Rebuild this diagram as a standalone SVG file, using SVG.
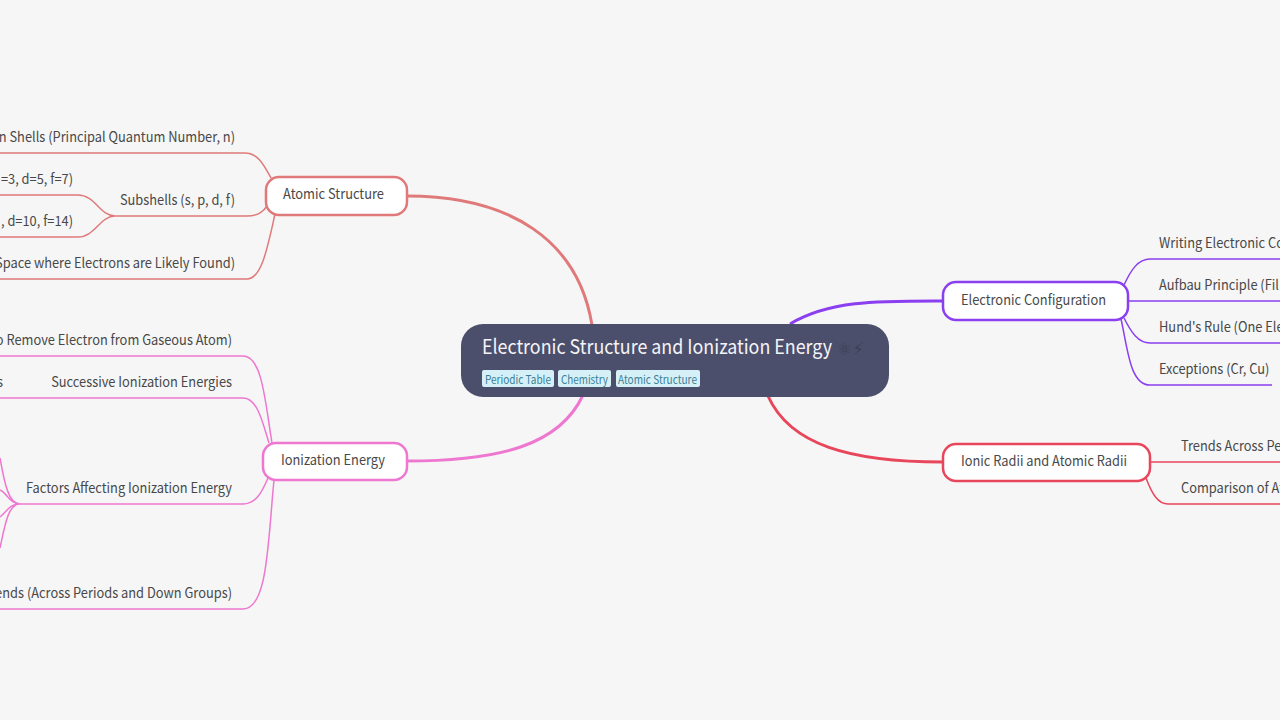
<svg xmlns="http://www.w3.org/2000/svg" width="1280" height="720" viewBox="0 0 1280 720">
<style>
text{font-family:"Noto Sans CJK SC","Noto Sans",sans-serif;font-size:14px;fill:#484848}
.r{text-anchor:end}
.n{fill:#fff;stroke-width:2.5}
.c path{fill:none;stroke-width:1.5}
.c path.m{stroke-width:3}
.tag{fill:#d6f0f8}
.t{font-size:11.5px;fill:#3a7f95}
.i{font-family:"DejaVu Sans",sans-serif;font-size:17px;fill:#3c3e55}
</style>
<rect width="1280" height="720" fill="#f6f6f6"/>
<g id="connectors" class="c">
<g stroke="#e07a7a">
<path class="m" d="M407 196C510 196 578 240 592 325"/>
<path d="M0 153H245C258 153 264 165 271 178"/>
<path d="M115 216H247C258 216 263 212 267 206"/>
<path d="M0 279H247C262 279 268 245 275 214"/>
<path d="M0 195H78C95 195 100 216 115 216C100 216 95 237 78 237H0"/>
</g>
<g stroke="#ee77d0">
<path class="m" d="M407 461C500 461 560 445 583 395"/>
<path d="M0 356H243C262 356 265 400 272 443"/>
<path d="M0 398H243C257 398 262 420 269 443"/>
<path d="M20 504H243C256 504 262 492 268 478"/>
<path d="M0 609H243C268 609 268 540 274 480"/>
<path d="M0 458C4 480 8 504 20 504C10 504 8 494 0 490M0 517C8 510 10 504 20 504C8 504 5 525 0 548"/>
</g>
<g stroke="#8a3ff0">
<path class="m" d="M790 324C830 300 880 301 943 301"/>
<path d="M1280 259H1150C1138 259 1131 270 1124 285"/>
<path d="M1129 301H1280"/>
<path d="M1280 343H1150C1138 343 1131 332 1124 318"/>
<path d="M1272 385H1150C1130 385 1128 350 1121 319"/>
</g>
<g stroke="#e8465a">
<path class="m" d="M768 396C790 445 850 462 943 462"/>
<path d="M1150 462H1280"/>
<path d="M1280 504H1168C1158 504 1152 494 1146 478"/>
</g>
</g>
<g id="root">
<rect x="461" y="324" width="428" height="73" rx="22" fill="#4c4f6b"/>
<text x="482" y="354" textLength="350" lengthAdjust="spacingAndGlyphs" style="font-size:20px;fill:#f4f4f8">Electronic Structure and Ionization Energy</text>
<text class="i" x="837" y="355">⚛&#xFE0E;</text>
<text class="i" x="852" y="355">⚡&#xFE0E;</text>
<rect class="tag" x="482" y="370" width="72" height="17" rx="2"/><text class="t" x="485" y="384" textLength="66" lengthAdjust="spacingAndGlyphs">Periodic Table</text>
<rect class="tag" x="558" y="370" width="53" height="17" rx="2"/><text class="t" x="561" y="384" textLength="47" lengthAdjust="spacingAndGlyphs">Chemistry</text>
<rect class="tag" x="616" y="370" width="84" height="17" rx="2"/><text class="t" x="618" y="384" textLength="79" lengthAdjust="spacingAndGlyphs">Atomic Structure</text>
</g>
<g id="atomic-structure">
<rect class="n" x="266" y="177" width="141" height="38" rx="13" stroke="#e07a7a"/>
<text x="283" y="199" textLength="101" lengthAdjust="spacingAndGlyphs">Atomic Structure</text>
</g>
<g id="ionization-energy">
<rect class="n" x="263" y="443" width="144" height="37" rx="13" stroke="#ee77d0"/>
<text x="281" y="465" textLength="104" lengthAdjust="spacingAndGlyphs">Ionization Energy</text>
</g>
<g id="electronic-configuration">
<rect class="n" x="943" y="282" width="185" height="38" rx="13" stroke="#8a3ff0"/>
<text x="961" y="305" textLength="145" lengthAdjust="spacingAndGlyphs">Electronic Configuration</text>
</g>
<g id="ionic-radii">
<rect class="n" x="943" y="444" width="207" height="37" rx="13" stroke="#e8465a"/>
<text x="961" y="466" textLength="166" lengthAdjust="spacingAndGlyphs">Ionic Radii and Atomic Radii</text>
</g>
<g id="labels-left">
<text class="r" transform="matrix(.917 0 0 1 235 142)">n Shells (Principal Quantum Number, n)</text>
<text class="r" transform="matrix(.917 0 0 1 73 184)">=3, d=5, f=7)</text>
<text class="r" transform="matrix(.917 0 0 1 235 205)">Subshells (s, p, d, f)</text>
<text class="r" transform="matrix(.917 0 0 1 73 226)">, d=10, f=14)</text>
<text class="r" transform="matrix(.917 0 0 1 235 268)">Space where Electrons are Likely Found)</text>
<text class="r" transform="matrix(.917 0 0 1 232 345)">o Remove Electron from Gaseous Atom)</text>
<text class="r" transform="matrix(.917 0 0 1 3 387)">s</text>
<text class="r" transform="matrix(.917 0 0 1 232 387)">Successive Ionization Energies</text>
<text class="r" transform="matrix(.917 0 0 1 232 493)">Factors Affecting Ionization Energy</text>
<text class="r" transform="matrix(.917 0 0 1 232 598)">ends (Across Periods and Down Groups)</text>
</g>
<g id="labels-right">
<text transform="matrix(.917 0 0 1 1159 248)">Writing Electronic Co</text>
<text transform="matrix(.917 0 0 1 1159 290)">Aufbau Principle (Fil</text>
<text transform="matrix(.917 0 0 1 1159 332)">Hund's Rule (One Ele</text>
<text transform="matrix(.917 0 0 1 1159 374)">Exceptions (Cr, Cu)</text>
<text transform="matrix(.917 0 0 1 1181 451)">Trends Across Pe</text>
<text transform="matrix(.917 0 0 1 1181 493)">Comparison of At</text>
</g>
</svg>
